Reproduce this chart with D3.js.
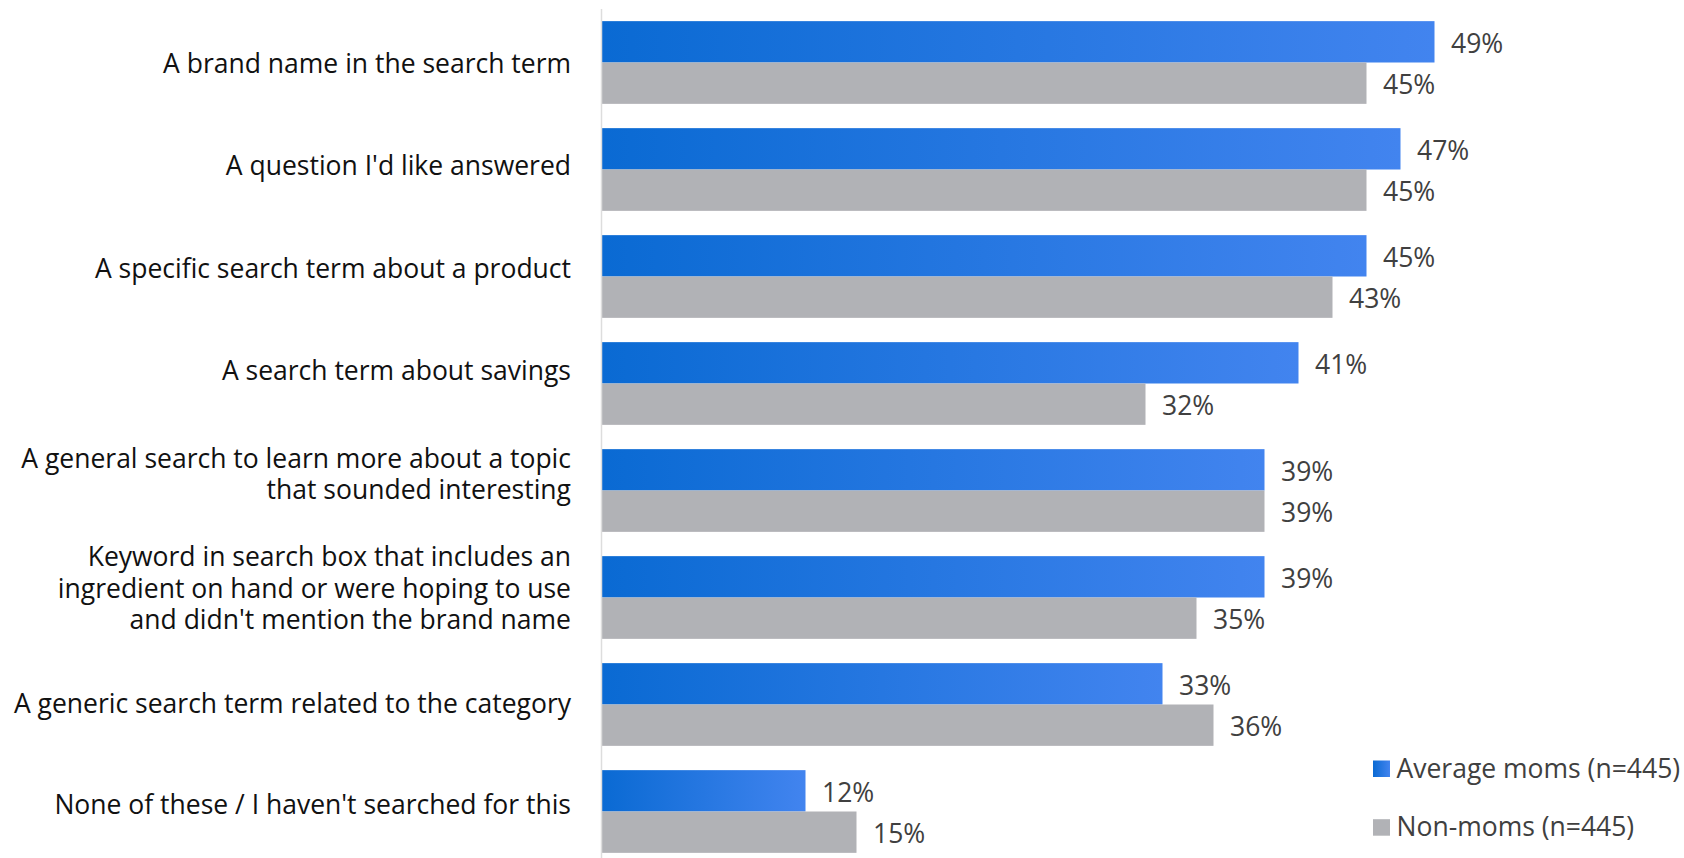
<!DOCTYPE html>
<html>
<head>
<meta charset="utf-8">
<script src="https://cdn.jsdelivr.net/npm/d3@7"></script>
<style>
  html, body { margin: 0; padding: 0; background: #ffffff; }
  svg { display: block; }
  text { font-family: "Open Sans", "Noto Sans", sans-serif; }
</style>
</head>
<body>
<svg id="chart" width="1684" height="858"></svg>
<script>
// Search behaviour by respondent group (% of respondents)
const categories = [
  ["A brand name in the search term"],
  ["A question I'd like answered"],
  ["A specific search term about a product"],
  ["A search term about savings"],
  ["A general search to learn more about a topic", "that sounded interesting"],
  ["Keyword in search box that includes an", "ingredient on hand or were hoping to use", "and didn't mention the brand name"],
  ["A generic search term related to the category"],
  ["None of these / I haven't searched for this"]
];
const seriesNames = ["Average moms (n=445)", "Non-moms (n=445)"];
const averageMoms = [49, 47, 45, 41, 39, 39, 33, 12];
const nonMoms = [45, 45, 43, 32, 39, 35, 36, 15];

const width = 1684, height = 858;
const axisX = 601.5;
const fontSize = 26.5;
// the label column is stacked on its own, so each label sits a little off its band centre
const labelNudge = [1, -3.5, -8, -13, -16, -9, -1, -6.5];
const svg = d3.select("#chart");

const defs = svg.append("defs");
const grad = defs.append("linearGradient")
  .attr("id", "blueGrad").attr("x1", "0").attr("x2", "1").attr("y1", "0").attr("y2", "0");
grad.append("stop").attr("offset", "0%").attr("stop-color", "#0a6ad3");
grad.append("stop").attr("offset", "100%").attr("stop-color", "#4284ef");

const fills = ["url(#blueGrad)", "#b1b2b6"];

const idx = d3.range(categories.length);
const y = d3.scaleBand().domain(idx).range([9, 9 + 107 * categories.length])
  .paddingInner(0.227).paddingOuter(0.1135);
const ySub = d3.scaleBand().domain([0, 1]).range([0, y.bandwidth()]);
const x = d3.scaleLinear().domain([0, 49]).range([axisX, axisX + 833]);

const rows = idx.map(i => ({ i, vals: [averageMoms[i], nonMoms[i]] }));

const g = svg.selectAll("g.row").data(rows).join("g")
  .attr("class", "row")
  .attr("transform", d => `translate(0,${y(d.i)})`);

g.selectAll("rect").data(d => d.vals.map((v, s) => ({ v, s }))).join("rect")
  .attr("x", x(0))
  .attr("y", d => ySub(d.s))
  .attr("width", d => x(d.v) - x(0))
  .attr("height", ySub.bandwidth())
  .attr("fill", d => fills[d.s]);

g.selectAll("text.val").data(d => d.vals.map((v, s) => ({ v, s }))).join("text")
  .attr("class", "val")
  .attr("x", d => x(d.v) + 16.5)
  .attr("y", d => ySub(d.s) + ySub.bandwidth() / 2 + 2)
  .attr("dy", "0.35em")
  .attr("font-size", fontSize)
  .attr("fill", "#404040")
  .text(d => d.v + "%");

// category labels, right aligned against the axis
const lineH = 31.3;
g.append("text")
  .attr("class", "cat")
  .attr("text-anchor", "end")
  .attr("font-size", fontSize)
  .attr("fill", "#111111")
  .each(function(d) {
    const lines = categories[d.i];
    const cy = y.bandwidth() / 2 + labelNudge[d.i];
    const t = d3.select(this);
    lines.forEach((ln, k) => {
      t.append("tspan")
        .attr("x", 571)
        .attr("y", cy + (k - (lines.length - 1) / 2) * lineH)
        .attr("dy", "0.35em")
        .text(ln);
    });
  });

// vertical axis line
svg.append("line")
  .attr("x1", axisX).attr("x2", axisX)
  .attr("y1", 9).attr("y2", height)
  .attr("stroke", "#dddddd").attr("stroke-width", 1.5);

// legend
const legend = svg.append("g").selectAll("g").data(seriesNames).join("g")
  .attr("transform", (d, k) => `translate(1373,${760.5 + k * 58.7})`);
legend.append("rect").attr("width", 17).attr("height", 16.5)
  .attr("fill", (d, k) => fills[k]);
legend.append("text")
  .attr("x", 23.5).attr("y", 8).attr("dy", "0.35em")
  .attr("font-size", fontSize).attr("fill", "#404040")
  .text(d => d);
</script>
</body>
</html>
